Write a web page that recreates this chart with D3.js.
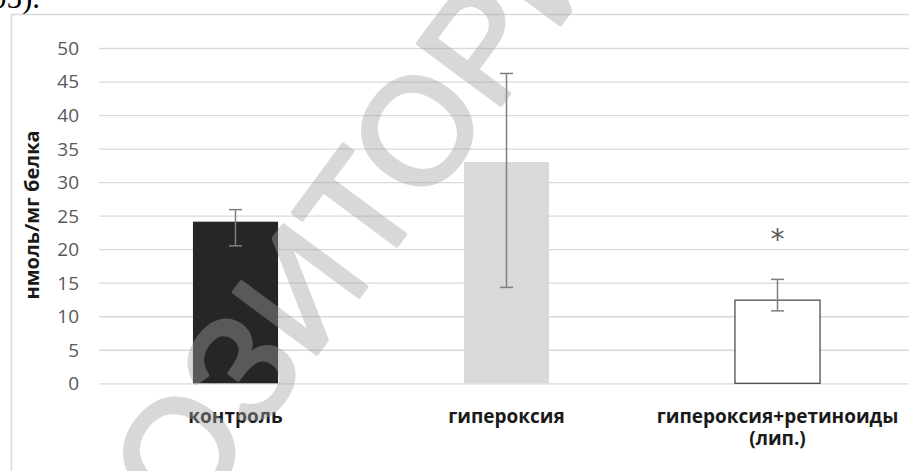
<!DOCTYPE html>
<html>
<head>
<meta charset="utf-8">
<script src="https://cdn.jsdelivr.net/npm/d3@7/dist/d3.min.js"></script>
<style>
  html, body { margin: 0; padding: 0; background: #fff; }
  svg { display: block; }
</style>
</head>
<body>
<script>
// Group labels (second element = optional second line)
const categories = ["контроль", "гипероксия", "гипероксия+ретиноиды"];
const categoryLine2 = ["", "", "(лип.)"];
// Mean values, нмоль/мг белка
const means = [24.1, 33.0, 12.4];
// Error bar ends
const errHigh = [25.9, 46.2, 15.5];
const errLow = [20.5, 14.3, 10.8];
// Bar fills
const fills = ["#262626", "#d9d9d9", "#ffffff"];
// Significance marks
const marks = ["", "", "*"];
const yTicks = [0, 5, 10, 15, 20, 25, 30, 35, 40, 45, 50];
const yTitle = "нмоль/мг белка";

const W = 909, H = 471;
const svg = d3.select("body").append("svg").attr("width", W).attr("height", H);

// caption fragment above the chart
svg.append("text")
  .attr("x", -9).attr("y", 8)
  .attr("font-family", "Liberation Serif, Times New Roman, serif")
  .attr("font-size", 31)
  .attr("fill", "#000")
  .text("05).");

// chart frame
svg.append("rect")
  .attr("x", 11.5).attr("y", 14.5)
  .attr("width", 920).attr("height", 480)
  .attr("fill", "#fff")
  .attr("stroke", "#d9d9d9").attr("stroke-width", 1.5);

const x = d3.scaleBand().domain(categories).range([100, 913]).paddingInner(0.686).paddingOuter(0.343);
const y = d3.scaleLinear().domain([0, 50]).range([383.3, 48]);

// gridlines
const yAxis = d3.axisLeft(y).tickValues(yTicks).tickSize(-(913 - 99)).tickPadding(20);
const gy = svg.append("g").attr("transform", "translate(99,0)").call(yAxis);
gy.select(".domain").remove();
gy.selectAll(".tick line").attr("stroke", "#d9d9d9").attr("stroke-width", 1.3);
gy.selectAll(".tick text")
  .attr("fill", "#595959")
  .attr("font-family", "Open Sans, sans-serif")
  .attr("font-size", 19)
  .attr("dy", "0.34em");

// bars
svg.append("g").selectAll("rect").data(categories).join("rect")
  .attr("x", d => x(d))
  .attr("y", (d, i) => y(means[i]))
  .attr("width", x.bandwidth())
  .attr("height", (d, i) => y(0) - y(means[i]))
  .attr("fill", (d, i) => fills[i])
  .attr("stroke", (d, i) => fills[i] === "#ffffff" ? "#404040" : "none")
  .attr("stroke-width", 1.2);

// error bars
const eb = svg.append("g").attr("stroke", "#7f7f7f").attr("stroke-width", 1.5).attr("fill", "none");
categories.forEach((c, i) => {
  const cx = x(c) + x.bandwidth() / 2;
  eb.append("line").attr("x1", cx).attr("x2", cx).attr("y1", y(errHigh[i])).attr("y2", y(errLow[i]));
  eb.append("line").attr("x1", cx - 6.5).attr("x2", cx + 6.5).attr("y1", y(errHigh[i])).attr("y2", y(errHigh[i]));
  eb.append("line").attr("x1", cx - 6.5).attr("x2", cx + 6.5).attr("y1", y(errLow[i])).attr("y2", y(errLow[i]));
});

// significance marks
svg.append("g").selectAll("text").data(categories).join("text")
  .attr("x", d => x(d) + x.bandwidth() / 2)
  .attr("y", (d, i) => y(errHigh[i]) - 30)
  .attr("text-anchor", "middle")
  .attr("font-family", "DejaVu Sans, sans-serif")
  .attr("font-size", 28)
  .attr("fill", "#595959")
  .text((d, i) => marks[i]);

// category labels
const lab = svg.append("g").selectAll("text").data(categories).join("text")
  .attr("x", d => x(d) + x.bandwidth() / 2)
  .attr("y", 423)
  .attr("text-anchor", "middle")
  .attr("font-family", "Open Sans, sans-serif")
  .attr("font-weight", "bold")
  .attr("font-size", 19)
  .attr("fill", "#1a1a1a");
lab.append("tspan").attr("x", d => x(d) + x.bandwidth() / 2).text(d => d);
lab.append("tspan").attr("x", d => x(d) + x.bandwidth() / 2).attr("dy", 22).text((d, i) => categoryLine2[i]);

// y-axis title
svg.append("text")
  .attr("transform", "translate(39,215) rotate(-90)")
  .attr("text-anchor", "middle")
  .attr("font-family", "Open Sans, sans-serif")
  .attr("font-weight", "bold")
  .attr("font-size", 20)
  .attr("fill", "#1a1a1a")
  .text(yTitle);

// repository watermark (fill + stroke composited, then faded as one layer)
svg.append("text")
  .attr("transform", "translate(300,288) rotate(-53.5)")
  .attr("text-anchor", "middle")
  .attr("dy", "0.35em")
  .attr("font-family", "Liberation Sans, Arial, sans-serif")
  .attr("font-size", 150)
  .attr("fill", "rgb(162,162,162)")
  .attr("stroke", "rgb(162,162,162)")
  .attr("stroke-width", 4)
  .attr("stroke-linejoin", "round")
  .attr("opacity", 0.41)
  .text("РЕПОЗИТОРИЙ");
</script>
</body>
</html>
